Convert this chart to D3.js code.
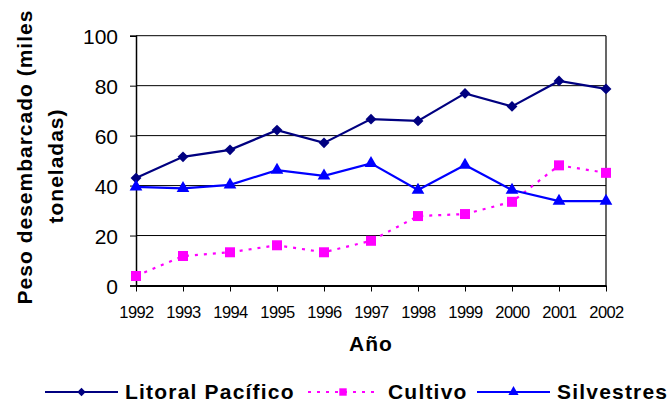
<!DOCTYPE html>
<html><head><meta charset="utf-8">
<script src="https://cdn.jsdelivr.net/npm/d3@7"></script>
<style>body{margin:0;background:#fff}svg{display:block}text{font-family:Arial,"Liberation Sans",sans-serif}</style>
</head><body><svg id="c" width="670" height="402"></svg>
<script>
const years = [1992,1993,1994,1995,1996,1997,1998,1999,2000,2001,2002];
const litoral = [43,51.5,54.3,62.2,57.1,66.6,65.9,76.9,71.7,81.9,78.7];
const cultivo = [3.8,11.8,13.3,16.1,13.3,17.9,27.8,28.6,33.5,48.1,45.1];
const silvestres = [39.5,38.9,40.3,46.2,43.9,48.9,38.2,48.2,38.2,33.8,33.8];
const yTicks = [0,20,40,60,80,100];
const seriesNames = ["Litoral Pacífico","Cultivo","Silvestres"];

const svg = d3.select("#c");
const L=136,R=606,T=35.7,B=285.5;
const x = d3.scalePoint().domain(years).range([L,R]);
const y = d3.scaleLinear().domain([0,100]).range([B,T]);

svg.append("g").selectAll("line").data(yTicks.filter(d=>d>0)).join("line")
  .attr("x1",L).attr("x2",R).attr("y1",d=>y(d)).attr("y2",d=>y(d))
  .attr("stroke","#000").attr("stroke-width",1);
svg.append("line").attr("x1",R).attr("x2",R).attr("y1",T).attr("y2",B).attr("stroke","#000").attr("stroke-width",1.2);

const ya = svg.append("g").attr("transform",`translate(${L},0)`)
  .call(d3.axisLeft(y).tickValues(yTicks).tickSize(6).tickPadding(12));
ya.select(".domain").attr("stroke","#000").attr("stroke-width",1.5);
ya.selectAll("text").attr("font-size",21).attr("fill","#000").attr("dy","0.36em");
const xa = svg.append("g").attr("transform",`translate(0,${B})`)
  .call(d3.axisBottom(x).tickSize(6).tickPadding(15).tickSizeOuter(0));
xa.select(".domain").attr("stroke","#000").attr("stroke-width",2.2);
xa.selectAll("text").attr("font-size",16.5).attr("fill","#000").attr("letter-spacing","-0.6px");

const line = d3.line().x((d,i)=>x(years[i])).y(d=>y(d));
const specs = [
  {data:litoral,color:"#000080",dash:null,marker:d3.symbolDiamond2,size:75,lsize:45},
  {data:cultivo,color:"#FF00FF",dash:"3,6",marker:d3.symbolSquare,size:100,lsize:55},
  {data:silvestres,color:"#0000FF",dash:null,marker:d3.symbolTriangle,size:70,lsize:45}
];
specs.forEach(s=>{
  svg.append("path").attr("d",line(s.data)).attr("fill","none")
    .attr("stroke",s.color).attr("stroke-width",2.2).attr("stroke-dasharray",s.dash);
});
specs.forEach(s=>{
  svg.append("g").selectAll("path").data(s.data).join("path")
    .attr("transform",(d,i)=>`translate(${x(years[i])},${y(d)})`)
    .attr("d",d3.symbol(s.marker,s.size)).attr("fill",s.color);
});

svg.append("text").attr("x",371).attr("y",351).attr("text-anchor","middle")
  .attr("font-size",21).attr("font-weight","bold").attr("letter-spacing","1px").text("Año");
const yl = svg.append("text").attr("transform","translate(0,157) rotate(-90)")
  .attr("text-anchor","middle").attr("font-size",21).attr("font-weight","bold").attr("letter-spacing","1px");
yl.append("tspan").attr("x",0).attr("y",32).text("Peso desembarcado (miles");
yl.append("tspan").attr("x",-9).attr("y",63).text("toneladas)");

const legX = [[45,118,125],[308,378,388],[477,550,557]];
specs.forEach((s,i)=>{
  const [a,b,t]=legX[i];
  const ly=392;
  svg.append("line").attr("x1",a).attr("x2",b).attr("y1",ly).attr("y2",ly)
    .attr("stroke",s.color).attr("stroke-width",2.2).attr("stroke-dasharray",s.dash);
  svg.append("path").attr("transform",`translate(${(a+b)/2},${ly})`)
    .attr("d",d3.symbol(s.marker,s.lsize)).attr("fill",s.color);
  svg.append("text").attr("x",t).attr("y",399).attr("font-size",21).attr("font-weight","bold")
    .attr("letter-spacing","1.2px").text(seriesNames[i]);
});
</script></body></html>
